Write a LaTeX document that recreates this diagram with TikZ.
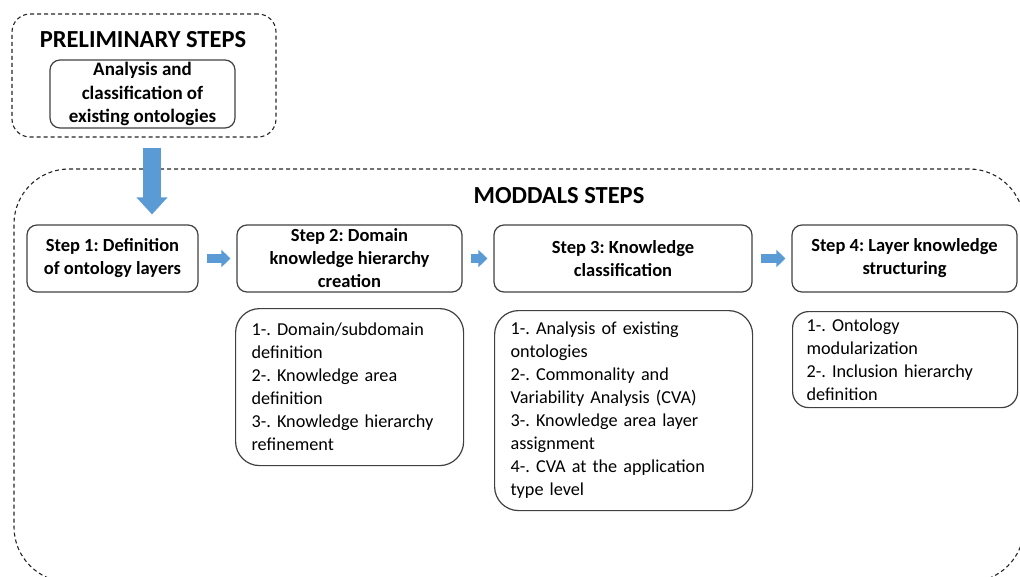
\documentclass[tikz,border=0pt]{standalone}
\usepackage{fontspec}
\setmainfont{Carlito}
\usetikzlibrary{arrows.meta}
\definecolor{boxgray}{HTML}{404040}
\definecolor{arrowblue}{HTML}{5B9BD5}
\newcommand{\titlefont}{\bfseries\fontsize{24.5}{28}\selectfont}
\newcommand{\stepfont}{\bfseries\fontsize{18.5}{23}\selectfont}
\newcommand{\listfont}{\fontsize{18.2}{23}\selectfont}
\frenchspacing

\begin{document}
\begin{tikzpicture}[x=1pt,y=-1pt,
  groupbox/.style={draw=black!85, line width=1.1pt, dash pattern=on 4pt off 3pt, inner sep=0pt},
  stepbox/.style={draw=boxgray, line width=1.2pt, rounded corners=10pt, align=center, font=\stepfont, inner sep=0pt},
  listbox/.style={draw=boxgray, line width=1.2pt, rounded corners=24pt, align=left, font=\listfont, inner xsep=16pt, inner ysep=0pt, anchor=north west},
  flow/.style={line width=9pt, arrowblue, -{Triangle[length=9pt,width=17pt]}, shorten <=8pt, shorten >=6pt},
  bigflow/.style={line width=18pt, arrowblue, -{Triangle[length=17pt,width=30pt]}, shorten <=10pt, shorten >=10pt}]
\useasboundingbox (0,0) rectangle (1020,576);
\clip (0,0) rectangle (1020,576);
%groups
\node[groupbox, rounded corners=18pt, minimum width=264pt, minimum height=123pt] (prelim) at (144,75.5) {};
\node[groupbox, rounded corners=55pt, minimum width=1010pt, minimum height=413pt] (moddals) at (519,375.5) {};
\node[font=\titlefont] (prelimtitle) at (143,40) {PRELIMINARY STEPS};
\node[font=\titlefont] (moddalstitle) at (559,196) {MODDALS STEPS};
%preliminary
\node[stepbox, font=\bfseries\fontsize{19}{23.5}\selectfont, minimum width=185pt, minimum height=68pt] (analysis) at (142.5,94) {Analysis and\\classification of\\existing ontologies};
%steps
\node[stepbox, minimum width=171pt, minimum height=67pt] (s1) at (112.5,258.5) {Step 1: Definition\\of ontology layers};
\node[stepbox, minimum width=225pt, minimum height=67pt] (s2) at (349.5,258.5) {Step 2: Domain\\knowledge hierarchy\\creation};
\node[stepbox, minimum width=258pt, minimum height=67pt] (s3) at (623,258.5) {Step 3: Knowledge\\classification};
\node[stepbox, minimum width=225pt, minimum height=67pt] (s4) at (904.5,258.5) {Step 4: Layer knowledge\\structuring};
%details
\node[listbox, text width=196pt, minimum height=157pt] (d2) at (235,308) {1-. Domain/subdomain\\definition\\2-. Knowledge area\\definition\\3-. Knowledge hierarchy\\refinement};
\node[listbox, text width=226pt, minimum height=200pt] (d3) at (494,310) {1-. Analysis of existing\\ontologies\\2-. Commonality and\\Variability Analysis (CVA)\\3-. Knowledge area layer\\assignment\\4-. CVA at the application\\type level};
\node[listbox, text width=197pt, minimum height=96pt, rounded corners=16pt, inner xsep=14pt] (d4) at (792,311) {1-. Ontology\\modularization\\2-. Inclusion hierarchy\\definition};
%arrows
\draw[bigflow] ([xshift=8pt]prelim.south) -- ([xshift=8pt]prelim.south |- s1.north);
\draw[flow] (s1) -- (s2);
\draw[flow] (s2) -- (s3);
\draw[flow] (s3) -- (s4);
\end{tikzpicture}
\end{document}
